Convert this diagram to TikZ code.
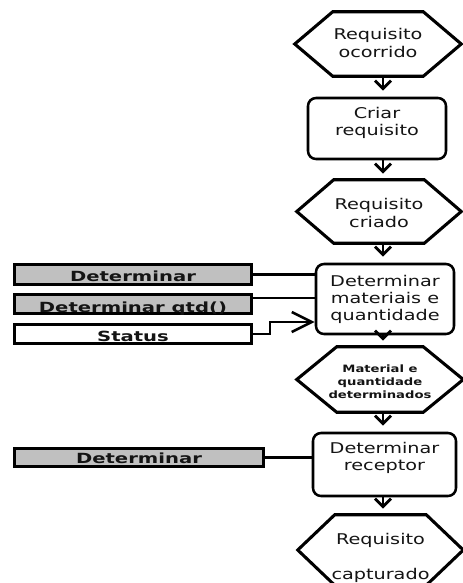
\documentclass[tikz,border=0pt]{standalone}
\usepackage{fontspec}
\newfontfamily\flowfont[FakeStretch=1.3]{DejaVu Sans}
\newfontfamily\tagfont[FakeStretch=1.4]{DejaVu Sans}
\usetikzlibrary{arrows.meta,calc}
\definecolor{tagfill}{RGB}{192,192,192}
\definecolor{ink}{RGB}{20,20,20}

% hexagonal event outline around an (undrawn) rectangular node
% #1 = node name, #2 = horizontal inset of the slanted sides
\newcommand\hexoutline[2]{%
  \draw[hexline] (#1.west) -- ($(#1.north west)+(#2,0)$) -- ($(#1.north east)+(-#2,0)$)
    -- (#1.east) -- ($(#1.south east)+(-#2,0)$) -- ($(#1.south west)+(#2,0)$) -- cycle;}

\begin{document}
\begin{tikzpicture}[x=0.75pt,y=-0.75pt,
  % multi-line labels: the text box is measured from the last baseline,
  % so text height places that baseline below the node centre
  flowtext/.style={font=\flowfont\fontsize{11.1pt}{13.5pt}\selectfont, align=center,
    text=ink, inner sep=0pt, text depth=0pt},
  stepbox/.style={flowtext, draw, line width=1.9pt, rounded corners=6pt},
  event/.style={flowtext},
  hexline/.style={line width=2.3pt, line join=miter},
  tagbox/.style={draw, line width=2.25pt, fill=tagfill, inner sep=0pt, text=ink,
    font=\tagfont\bfseries\fontsize{10.5pt}{12pt}\selectfont, text depth=0pt},
  flow/.style={line width=2.2pt, -{Straight Barb[length=6pt,width=12pt]}, shorten >=4.5pt},
  link/.style={line width=1.6pt},
]
\useasboundingbox (0,0) rectangle (463,583);

% ---- main flow (right column) ----
\node[event, minimum width=124.5pt, minimum height=48pt, text height=19.5pt]
  (h1) at (378,44) {Requisito\\ocorrido};
\node[stepbox, minimum width=103.5pt, minimum height=45.75pt, text height=9.75pt,
  font=\flowfont\fontsize{11.1pt}{12.75pt}\selectfont]
  (b2) at (377,128.5) {Criar\\requisito};
\node[event, minimum width=123pt, minimum height=47.25pt, text height=23.25pt]
  (h2) at (379,211.5) {Requisito\\criado};
\node[stepbox, minimum width=103.5pt, minimum height=52.5pt, text height=31.5pt,
  font=\flowfont\fontsize{11.1pt}{12.4pt}\selectfont]
  (b3) at (385,299) {Determinar\\materiais e\\quantidade};
\node[event, minimum width=124.5pt, minimum height=48.75pt, text height=27.75pt,
  font=\flowfont\bfseries\fontsize{7.6pt}{9.75pt}\selectfont]
  (h3) at (380,379.5) {Material e\\quantidade\\determinados};
\node[stepbox, minimum width=107.25pt, minimum height=47.25pt, text height=8.25pt,
  font=\flowfont\fontsize{11.1pt}{12.75pt}\selectfont]
  (b5) at (384.5,464.5) {Determinar\\receptor};
\node[event, minimum width=123.75pt, minimum height=52.5pt, text height=44.25pt,
  font=\flowfont\fontsize{11.1pt}{26.25pt}\selectfont]
  (h4) at (380.5,550) {Requisito\\capturado};

\hexoutline{h1}{38}
\hexoutline{h2}{37}
\hexoutline{h3}{40}
\hexoutline{h4}{37}

% vertical flow arrows
\coordinate (ax) at (383,0);
\draw[flow] (h1.south -| ax) -- (b2.north -| ax);
\draw[flow] (b2.south -| ax) -- (h2.north -| ax);
\draw[flow] (h2.south -| ax) -- (b3.north -| ax);
\draw[flow] (b3.south -| ax) -- (h3.north -| ax);
\draw[flow] (h3.south -| ax) -- (b5.north -| ax);
\draw[flow] (b5.south -| ax) -- (h4.north -| ax);

% ---- operations and attributes (left column) ----
\node[tagbox, minimum width=177.75pt, minimum height=15pt, text height=10.5pt]
  (L1) at (133,274.5) {Determinar};
\node[tagbox, minimum width=177.75pt, minimum height=14.25pt, text height=12.75pt]
  (L2) at (133,304) {Determinar qtd()};
\node[tagbox, fill=white, minimum width=177.75pt, minimum height=14.25pt, text height=11.25pt]
  (L3) at (133,334) {Status};
\node[tagbox, minimum width=186.75pt, minimum height=13.5pt, text height=9pt]
  (L4) at (139,457.5) {Determinar};

\coordinate (l2out) at ([yshift=4.5pt]L2.east);
\coordinate (s3in) at ([yshift=-17.25pt]b3.west);

\draw[link] (L1.east) -- (L1.east -| b3.west);
\draw[link] (l2out) -- (l2out -| b3.west);
\draw[line width=2pt, -{Straight Barb[length=15pt,width=15pt]}]
  (L3.east) -- ++(17,0) |- (b3.west |- s3in);
\draw[link] (L4.east) -- (L4.east -| b5.west);
\end{tikzpicture}
\end{document}
